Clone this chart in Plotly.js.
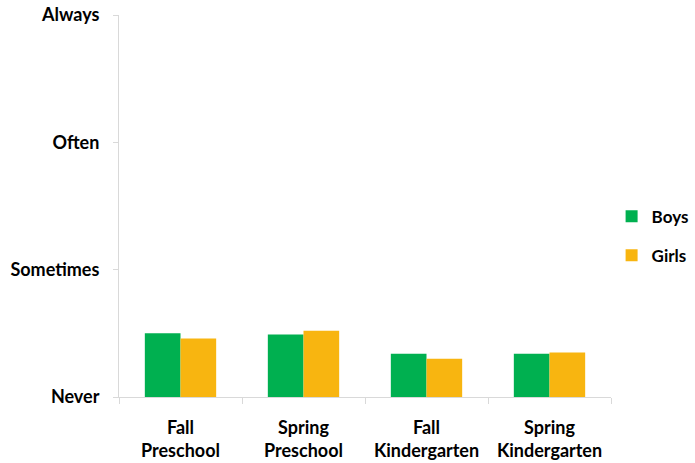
<!DOCTYPE html>
<html>
<head>
<meta charset="utf-8">
<script src="https://cdn.plot.ly/plotly-3.0.1.min.js"></script>
<style>
  html, body { margin: 0; padding: 0; background: #fff; }
  #chart { width: 695px; height: 463px; }
</style>
</head>
<body>
<div id="chart"></div>
<script>
// Time points along the x axis
const categories = ["Fall<br>Preschool", "Spring<br>Preschool", "Fall<br>Kindergarten", "Spring<br>Kindergarten"];
// Mean frequency ratings (1 = Never ... 4 = Always)
const boys  = [1.50, 1.49, 1.34, 1.34];
const girls = [1.46, 1.52, 1.30, 1.35];
// Frequency scale labels
const scaleValues = [1, 2, 3, 4];
const scaleLabels = ["Never", "Sometimes", "Often", "Always"];

const fontFamily = "Lato, 'Open Sans', sans-serif";
const labelFont = { family: fontFamily, size: 18, color: "#000", weight: "bold" };

const traces = [
  { type: "bar", name: "Boys",  legendgroup: "boys",  x: categories, y: boys,  marker: { color: "#00B050" } },
  { type: "bar", name: "Girls", legendgroup: "girls", x: categories, y: girls, marker: { color: "#F8B510" } }
];

const layout = {
  width: 695, height: 463,
  margin: { l: 119, r: 84, t: 15, b: 66, autoexpand: false },
  paper_bgcolor: "#fff", plot_bgcolor: "#fff",
  barmode: "group",
  bargap: 0.42,
  bargroupgap: 0,
  font: labelFont,
  xaxis: {
    type: "category",
    tickson: "boundaries",
    ticks: "outside", ticklen: 6, tickcolor: "#D9D9D9",
    showline: true, linecolor: "#D9D9D9", linewidth: 1,
    showgrid: false, zeroline: false,
    ticklabelstandoff: 14,
    tickfont: labelFont
  },
  yaxis: {
    range: [1, 4],
    tickmode: "array", tickvals: scaleValues, ticktext: scaleLabels,
    ticks: "outside", ticklen: 5, tickcolor: "#D9D9D9",
    showline: true, linecolor: "#D9D9D9", linewidth: 1,
    showgrid: false, zeroline: false,
    ticklabelstandoff: 10,
    tickfont: labelFont
  },
  legend: {
    xref: "container", yref: "container",
    x: 0.88, xanchor: "left", y: 0.49, yanchor: "middle",
    font: { family: fontFamily, size: 17, color: "#000", weight: "bold" },
    tracegroupgap: 14,
    itemwidth: 30
  },
  showlegend: true
};

Plotly.newPlot("chart", traces, layout, { displayModeBar: false, staticPlot: true });
</script>
</body>
</html>
